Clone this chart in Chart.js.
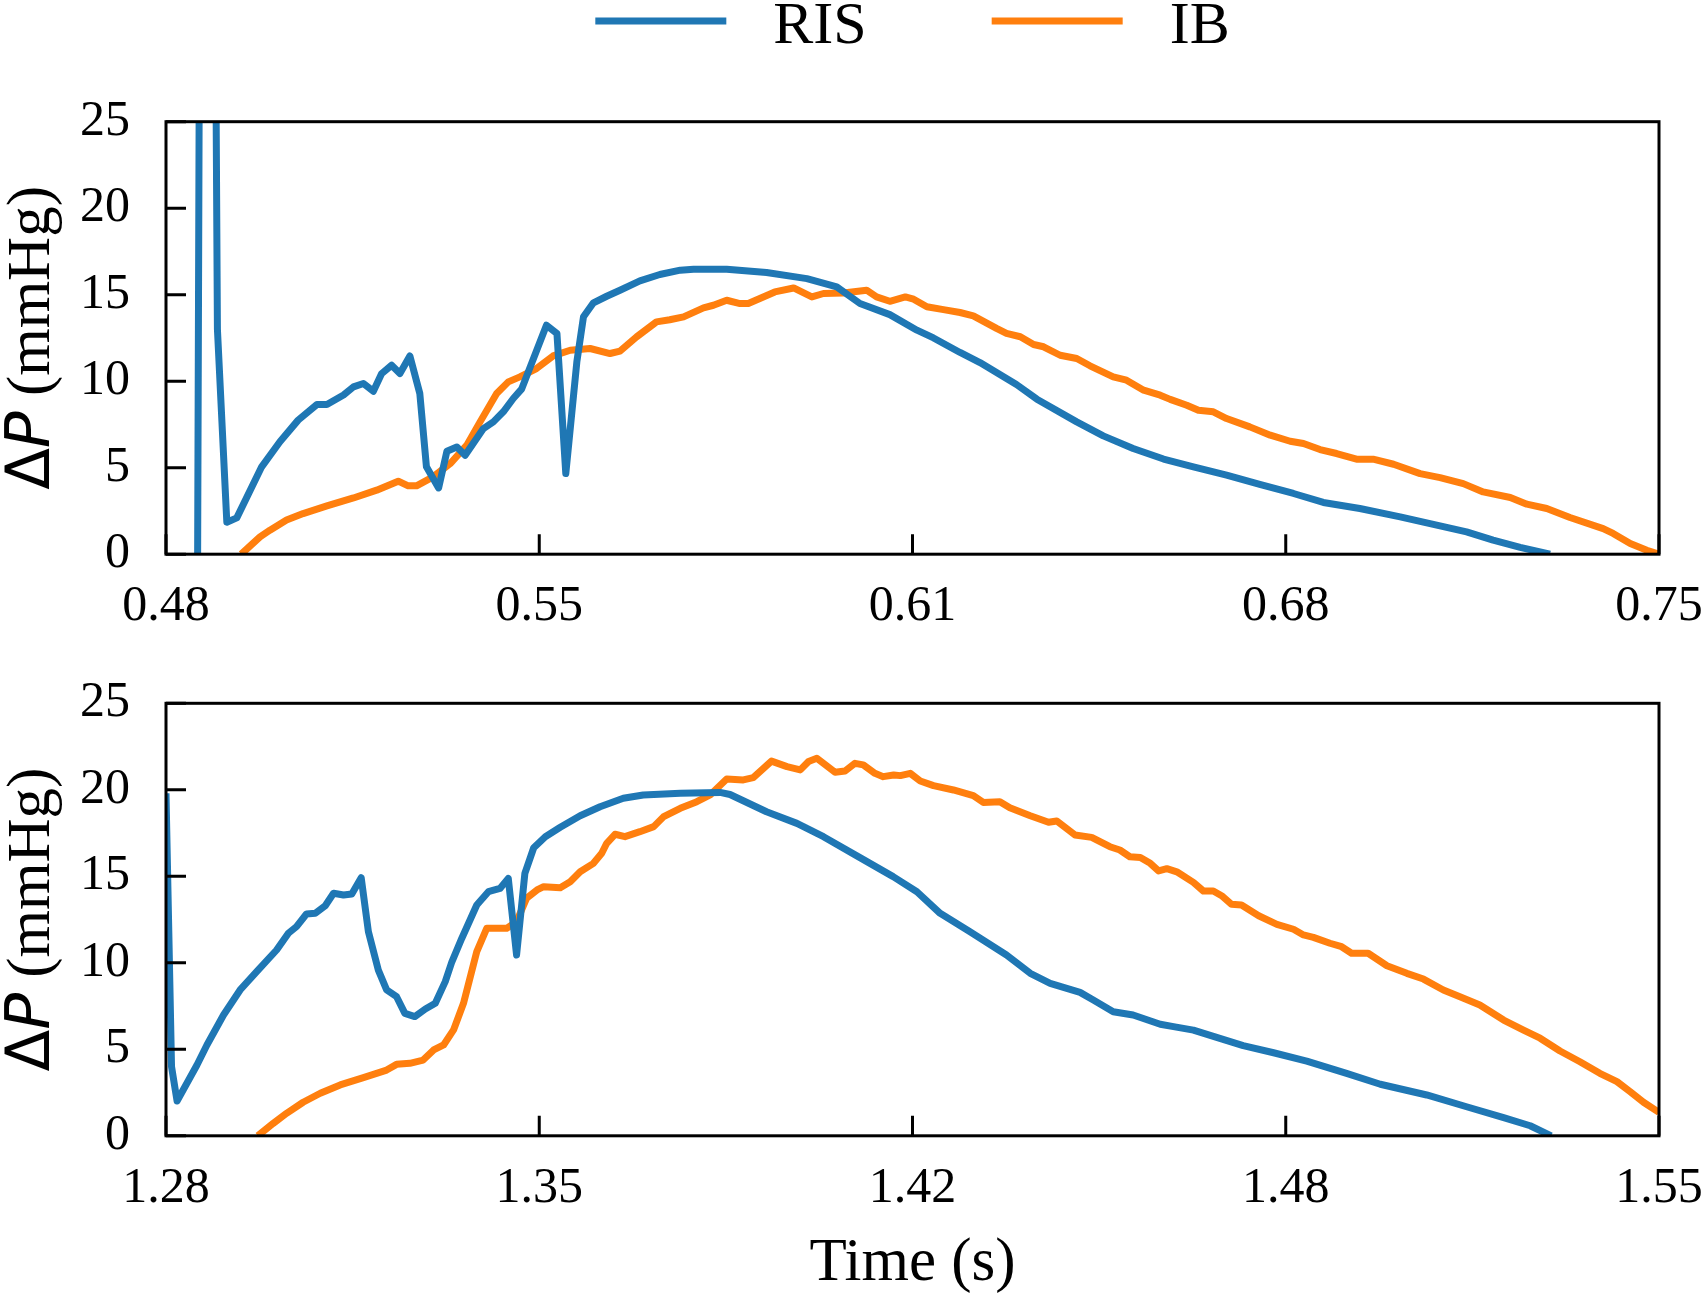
<!DOCTYPE html>
<html>
<head>
<meta charset="utf-8">
<script src="https://cdn.jsdelivr.net/npm/chart.js@4.4.0/dist/chart.umd.min.js"></script>
<style>
html, body { margin: 0; padding: 0; background: #ffffff; }
#wrap { position: relative; width: 1704px; height: 1293px; overflow: hidden; background: #fff; }
canvas { position: absolute; left: 0; }
#c1 { top: 0; }
#c2 { top: 640px; }
</style>
</head>
<body>
<div id="wrap">
  <canvas id="c1" width="1704" height="640"></canvas>
  <canvas id="c2" width="1704" height="653"></canvas>
</div>
<script>
// ---------------- data ----------------
const seriesNames = ['RIS', 'IB'];
const seriesColors = ['#1f77b4', '#ff7f0e'];
const yTicks = [0, 5, 10, 15, 20, 25];
const topXTicks = [0.48, 0.5475, 0.615, 0.6825, 0.75];
const topXLabels = ['0.48', '0.55', '0.61', '0.68', '0.75'];
const botXTicks = [1.28, 1.3475, 1.415, 1.4825, 1.55];
const botXLabels = ['1.28', '1.35', '1.42', '1.48', '1.55'];
const xTitle = 'Time (s)';
const yTitleParts = ['\u0394', 'P', ' (mmHg)'];

// [time (s), ΔP (mmHg)]
const topRIS = [
  [0.4857, -2], [0.4862, 45], [0.4887, 45], [0.4893, 13.0], [0.4910, 1.85], [0.4928, 2.1],
  [0.4973, 5.05], [0.5006, 6.5], [0.5039, 7.75], [0.5073, 8.65], [0.5091, 8.65], [0.5121, 9.2],
  [0.5139, 9.67], [0.5157, 9.87], [0.5175, 9.42], [0.5190, 10.44], [0.5208, 10.92], [0.5223, 10.44],
  [0.5241, 11.46], [0.5259, 9.29], [0.5271, 5.05], [0.5293, 3.83], [0.5308, 5.95], [0.5326, 6.2],
  [0.5341, 5.72], [0.5374, 7.26], [0.5392, 7.65], [0.5410, 8.23], [0.5428, 9.0], [0.5443, 9.54],
  [0.5488, 13.24], [0.5507, 12.76], [0.5523, 4.66], [0.5543, 11.12], [0.5555, 13.72], [0.5573, 14.53],
  [0.5597, 14.91], [0.5621, 15.26], [0.5657, 15.8], [0.5693, 16.17], [0.5730, 16.42], [0.5754, 16.47],
  [0.5814, 16.47], [0.5886, 16.28], [0.5959, 15.93], [0.6013, 15.45], [0.6055, 14.49], [0.6109, 13.85],
  [0.6158, 12.95], [0.6188, 12.5], [0.6236, 11.66], [0.6272, 11.08], [0.6338, 9.81], [0.6375, 8.96],
  [0.6447, 7.65], [0.6495, 6.84], [0.6549, 6.11], [0.6604, 5.5], [0.6658, 5.05], [0.6718, 4.57],
  [0.6778, 4.03], [0.6839, 3.51], [0.6893, 2.99], [0.6959, 2.64], [0.7032, 2.16], [0.7092, 1.72],
  [0.7152, 1.29], [0.7200, 0.81], [0.7249, 0.39], [0.7303, 0.0]
];
const topIB = [
  [0.4936, 0.0], [0.4970, 1.0], [0.4988, 1.39], [0.5018, 1.97], [0.5048, 2.35], [0.5091, 2.79],
  [0.5139, 3.25], [0.5181, 3.7], [0.5220, 4.22], [0.5238, 3.95], [0.5253, 3.95], [0.5283, 4.47],
  [0.5314, 5.24], [0.5344, 6.3], [0.5368, 7.65], [0.5398, 9.29], [0.5419, 9.96], [0.5440, 10.25],
  [0.5470, 10.73], [0.5500, 11.46], [0.5531, 11.79], [0.5567, 11.89], [0.5603, 11.6], [0.5621, 11.74],
  [0.5651, 12.56], [0.5687, 13.43], [0.5711, 13.55], [0.5736, 13.72], [0.5772, 14.24], [0.5790, 14.39],
  [0.5814, 14.68], [0.5838, 14.49], [0.5853, 14.49], [0.5901, 15.16], [0.5935, 15.39], [0.5968, 14.87],
  [0.5989, 15.07], [0.6025, 15.1], [0.6067, 15.26], [0.6085, 14.87], [0.6109, 14.62], [0.6137, 14.87],
  [0.6152, 14.74], [0.6176, 14.3], [0.6206, 14.14], [0.6236, 13.97], [0.6260, 13.78], [0.6302, 13.05],
  [0.6320, 12.76], [0.6345, 12.57], [0.6369, 12.12], [0.6387, 11.99], [0.6417, 11.5], [0.6447, 11.31],
  [0.6471, 10.89], [0.6513, 10.25], [0.6537, 10.06], [0.6568, 9.48], [0.6598, 9.19], [0.6616, 8.95],
  [0.6646, 8.61], [0.6667, 8.32], [0.6694, 8.23], [0.6718, 7.84], [0.6760, 7.36], [0.6797, 6.88],
  [0.6833, 6.53], [0.6857, 6.4], [0.6887, 6.05], [0.6917, 5.82], [0.6953, 5.49], [0.6983, 5.49],
  [0.7020, 5.2], [0.7068, 4.66], [0.7104, 4.43], [0.7146, 4.08], [0.7182, 3.6], [0.7231, 3.28],
  [0.7261, 2.89], [0.7297, 2.64], [0.7339, 2.12], [0.7399, 1.48], [0.7417, 1.2], [0.7448, 0.62],
  [0.7478, 0.23], [0.7500, 0.0]
];
const botRIS = [
  [1.2800, 19.8], [1.2810, 4.0], [1.2820, 2.01], [1.2856, 4.09], [1.2874, 5.25], [1.2904, 6.98],
  [1.2934, 8.43], [1.2964, 9.49], [1.3000, 10.74], [1.3021, 11.7], [1.3036, 12.09], [1.3054, 12.82],
  [1.3070, 12.86], [1.3088, 13.3], [1.3103, 14.02], [1.3121, 13.92], [1.3136, 13.98], [1.3153, 14.92],
  [1.3166, 11.8], [1.3184, 9.58], [1.3199, 8.43], [1.3217, 8.04], [1.3232, 7.08], [1.3250, 6.89],
  [1.3269, 7.33], [1.3287, 7.66], [1.3305, 8.91], [1.3317, 10.06], [1.3335, 11.42], [1.3362, 13.34],
  [1.3383, 14.11], [1.3404, 14.3], [1.3419, 14.88], [1.3434, 10.45], [1.3449, 15.17], [1.3465, 16.65],
  [1.3486, 17.29], [1.3513, 17.83], [1.3549, 18.5], [1.3585, 19.02], [1.3627, 19.51], [1.3663, 19.7],
  [1.3730, 19.8], [1.3802, 19.85], [1.3820, 19.73], [1.3886, 18.73], [1.3941, 18.06], [1.3989, 17.29],
  [1.4055, 16.08], [1.4115, 14.98], [1.4158, 14.11], [1.4200, 12.86], [1.4254, 11.8], [1.4320, 10.45],
  [1.4363, 9.39], [1.4399, 8.81], [1.4453, 8.29], [1.4477, 7.85], [1.4513, 7.17], [1.4549, 6.98],
  [1.4598, 6.45], [1.4622, 6.31], [1.4658, 6.11], [1.4700, 5.69], [1.4748, 5.21], [1.4803, 4.8],
  [1.4863, 4.32], [1.4935, 3.61], [1.4996, 2.98], [1.5080, 2.36], [1.5152, 1.68], [1.5219, 1.05],
  [1.5267, 0.58], [1.5305, 0.0]
];
const botIB = [
  [1.2966, 0.0], [1.2994, 0.72], [1.3018, 1.3], [1.3048, 1.94], [1.3079, 2.46], [1.3115, 2.94],
  [1.3157, 3.36], [1.3199, 3.8], [1.3217, 4.13], [1.3241, 4.19], [1.3265, 4.38], [1.3284, 4.96],
  [1.3302, 5.25], [1.3320, 6.12], [1.3338, 7.66], [1.3362, 10.64], [1.3380, 11.99], [1.3416, 11.99],
  [1.3434, 12.38], [1.3452, 13.73], [1.3471, 14.21], [1.3483, 14.4], [1.3513, 14.34], [1.3531, 14.69],
  [1.3549, 15.26], [1.3573, 15.75], [1.3588, 16.33], [1.3597, 16.91], [1.3612, 17.43], [1.3630, 17.29],
  [1.3657, 17.58], [1.3682, 17.87], [1.3700, 18.45], [1.3730, 18.93], [1.3760, 19.31], [1.3784, 19.7],
  [1.3814, 20.62], [1.3844, 20.57], [1.3862, 20.7], [1.3895, 21.66], [1.3923, 21.34], [1.3947, 21.15],
  [1.3962, 21.64], [1.3977, 21.82], [1.4010, 21.01], [1.4028, 21.09], [1.4046, 21.53], [1.4061, 21.44],
  [1.4082, 20.95], [1.4097, 20.76], [1.4116, 20.86], [1.4128, 20.82], [1.4146, 20.95], [1.4164, 20.51],
  [1.4188, 20.24], [1.4224, 19.99], [1.4260, 19.66], [1.4278, 19.27], [1.4308, 19.31], [1.4326, 18.96],
  [1.4363, 18.5], [1.4396, 18.12], [1.4411, 18.2], [1.4444, 17.39], [1.4474, 17.25], [1.4507, 16.71],
  [1.4525, 16.52], [1.4543, 16.13], [1.4562, 16.09], [1.4580, 15.75], [1.4595, 15.31], [1.4610, 15.44],
  [1.4628, 15.26], [1.4658, 14.65], [1.4676, 14.15], [1.4694, 14.15], [1.4709, 13.88], [1.4727, 13.38],
  [1.4745, 13.34], [1.4776, 12.72], [1.4809, 12.22], [1.4839, 11.94], [1.4857, 11.61], [1.4875, 11.47],
  [1.4905, 11.13], [1.4926, 10.93], [1.4944, 10.55], [1.4974, 10.55], [1.5008, 9.83], [1.5044, 9.39],
  [1.5074, 9.06], [1.5110, 8.43], [1.5140, 8.04], [1.5176, 7.56], [1.5219, 6.69], [1.5255, 6.11],
  [1.5285, 5.64], [1.5321, 4.9], [1.5357, 4.28], [1.5393, 3.61], [1.5424, 3.13], [1.5448, 2.55],
  [1.5472, 1.94], [1.5500, 1.35]
];

// ---------------- rendering ----------------
const SERIF = '"Liberation Serif", "Times New Roman", serif';

const frameTicks = {
  id: 'frameTicks',
  afterDatasetsDraw(chart) {
    const { ctx, chartArea: a, scales: { x, y } } = chart;
    ctx.save();
    ctx.strokeStyle = '#000';
    ctx.lineWidth = 3;
    ctx.lineCap = 'butt';
    ctx.beginPath();
    x.ticks.forEach(t => {
      const px = x.getPixelForValue(t.value);
      ctx.moveTo(px, a.bottom); ctx.lineTo(px, a.bottom - 20);
    });
    y.ticks.forEach(t => {
      const py = y.getPixelForValue(t.value);
      ctx.moveTo(a.left, py); ctx.lineTo(a.left + 20, py);
    });
    ctx.stroke();
    ctx.strokeRect(a.left, a.top, a.right - a.left, a.bottom - a.top);
    ctx.restore();
  }
};

const yTitle = {
  id: 'yTitle',
  afterDraw(chart) {
    const { ctx, chartArea: a } = chart;
    const fonts = ['61px "DejaVu Sans"', 'oblique 61px "DejaVu Sans"', '61px ' + SERIF];
    ctx.save();
    const widths = yTitleParts.map((t, i) => { ctx.font = fonts[i]; return ctx.measureText(t).width; });
    const total = widths.reduce((s, w) => s + w, 0);
    ctx.translate(49, (a.top + a.bottom) / 2);
    ctx.rotate(-Math.PI / 2);
    ctx.fillStyle = '#000';
    ctx.textBaseline = 'alphabetic';
    ctx.textAlign = 'left';
    let xPos = -total / 2;
    yTitleParts.forEach((t, i) => { ctx.font = fonts[i]; ctx.fillText(t, xPos, 0); xPos += widths[i]; });
    ctx.restore();
  }
};

const topLegend = {
  id: 'topLegend',
  afterDraw(chart) {
    const { ctx, chartArea: a } = chart;
    const lineLen = 131, gapText = 47, gapItem = 125, yLine = 21, yBase = 43;
    ctx.save();
    ctx.font = '60px ' + SERIF;
    const items = chart.data.datasets.map(d => ({ label: d.label, color: d.borderColor, w: ctx.measureText(d.label).width }));
    const total = items.reduce((s, it) => s + lineLen + gapText + it.w, 0) + gapItem * (items.length - 1);
    let xPos = (a.left + a.right) / 2 - total / 2;
    items.forEach(it => {
      ctx.strokeStyle = it.color;
      ctx.lineWidth = 7;
      ctx.beginPath();
      ctx.moveTo(xPos, yLine); ctx.lineTo(xPos + lineLen, yLine);
      ctx.stroke();
      ctx.fillStyle = '#000';
      ctx.textBaseline = 'alphabetic';
      ctx.fillText(it.label, xPos + lineLen + gapText, yBase);
      xPos += lineLen + gapText + it.w + gapItem;
    });
    ctx.restore();
  }
};

function makeDataset(i, pts) {
  return {
    label: seriesNames[i],
    data: pts.map(p => ({ x: p[0], y: p[1] })),
    borderColor: seriesColors[i],
    backgroundColor: seriesColors[i],
    borderWidth: 7,
    pointRadius: 0,
    pointHoverRadius: 0,
    tension: 0,
    fill: false,
    clip: 0,
    borderJoinStyle: 'round',
    borderCapStyle: 'butt'
  };
}

function makeChart(id, ris, ib, xMin, xMax, xTicks, xLabels, padTop, xHeight, showXTitle, extraPlugins) {
  return new Chart(document.getElementById(id), {
    type: 'line',
    data: { datasets: [makeDataset(0, ris), makeDataset(1, ib)] },
    options: {
      responsive: false,
      animation: false,
      devicePixelRatio: 1,
      layout: { padding: { top: padTop, right: 45, left: 0, bottom: 0 } },
      plugins: { legend: { display: false }, tooltip: { enabled: false }, title: { display: false } },
      events: [],
      scales: {
        x: {
          type: 'linear',
          min: xMin,
          max: xMax,
          afterBuildTicks: s => { s.ticks = xTicks.map(v => ({ value: v })); },
          afterFit: s => { s.height = xHeight; s.paddingLeft = 0; s.paddingRight = 0; },
          grid: { display: false, drawTicks: false },
          border: { display: false },
          ticks: {
            autoSkip: false, maxRotation: 0, minRotation: 0, padding: 23,
            color: '#000', font: { family: SERIF, size: 50 },
            callback: (v, i) => xLabels[i]
          },
          title: {
            display: showXTitle, text: xTitle, color: '#000',
            font: { family: SERIF, size: 61, lineHeight: 0.95 }, padding: { top: 0, bottom: 0 }
          }
        },
        y: {
          type: 'linear',
          min: 0,
          max: 25,
          afterBuildTicks: s => { s.ticks = yTicks.map(v => ({ value: v })); },
          afterFit: s => { s.width = 166; s.paddingTop = 0; s.paddingBottom = 0; },
          grid: { display: false, drawTicks: false },
          border: { display: false },
          ticks: {
            padding: 36, color: '#000', font: { family: SERIF, size: 50 },
            callback: v => String(v)
          }
        }
      }
    },
    plugins: [frameTicks, yTitle].concat(extraPlugins)
  });
}

makeChart('c1', topRIS, topIB, 0.48, 0.75, topXTicks, topXLabels, 121.7, 85.8, false, [topLegend]);
makeChart('c2', botRIS, botIB, 1.28, 1.55, botXTicks, botXLabels, 63.3, 157.2, true, []);
</script>
</body>
</html>
